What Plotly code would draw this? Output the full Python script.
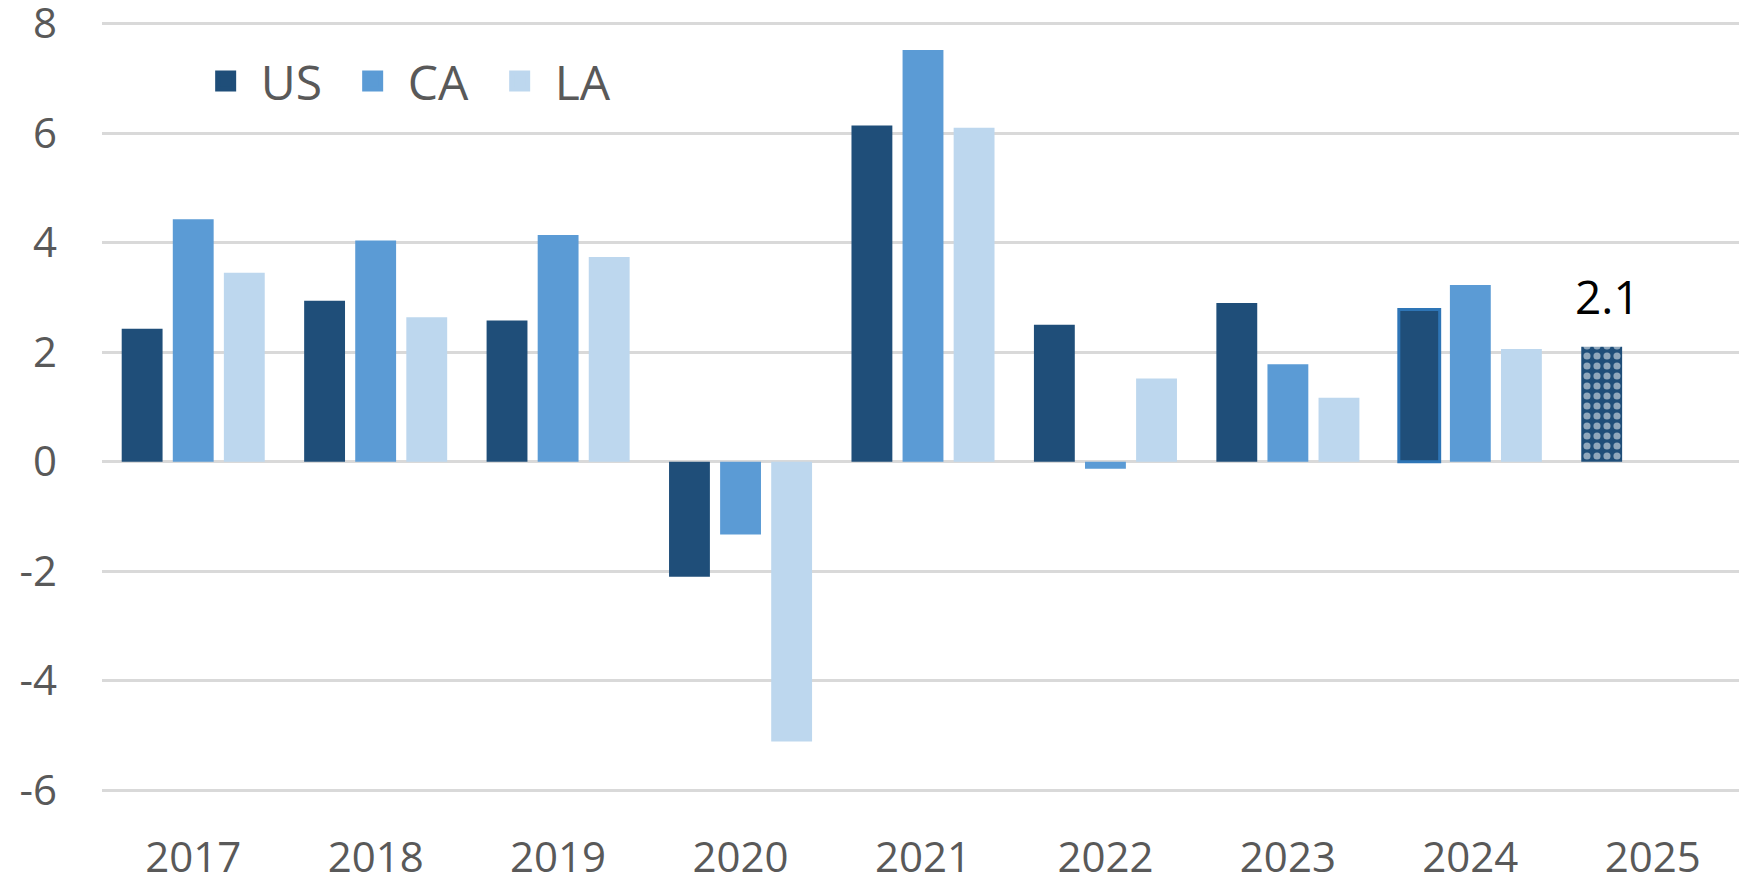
import plotly.graph_objects as go

years = ["2017", "2018", "2019", "2020", "2021", "2022", "2023", "2024", "2025"]
us = [2.43, 2.94, 2.58, -2.1, 6.14, 2.5, 2.9, 2.78, None]
ca = [4.43, 4.04, 4.14, -1.33, 7.52, -0.13, 1.78, 3.23, None]
la = [3.45, 2.64, 3.74, -5.11, 6.1, 1.52, 1.17, 2.06, None]
us_forecast = [None, None, None, None, None, None, None, None, 2.1]
forecast_year = "2025"
forecast_value = 2.1
forecast_label = "2.1"
y_ticks = [-6, -4, -2, 0, 2, 4, 6, 8]
y_ticktext = ["-6", "-4", "-2", "0", "2", "4", "6", "8"]

C_US = "#1f4e79"
C_CA = "#5b9bd5"
C_LA = "#bdd7ee"
FONT = "Open Sans"

fig = go.Figure()

us_line_colors = ["rgba(0,0,0,0)"] * 7 + ["#2e75b6", "rgba(0,0,0,0)"]
us_line_widths = [0] * 7 + [3, 0]

fig.add_trace(go.Bar(x=years, y=us, name="US", marker=dict(color=C_US,
                     line=dict(color=us_line_colors, width=us_line_widths)),
                     showlegend=False, offsetgroup="us"))
fig.add_trace(go.Bar(x=years, y=ca, name="CA", marker=dict(color=C_CA, line=dict(width=0)),
                     showlegend=False, offsetgroup="ca"))
fig.add_trace(go.Bar(x=years, y=la, name="LA", marker=dict(color=C_LA, line=dict(width=0)),
                     showlegend=False, offsetgroup="la"))
fig.add_trace(go.Bar(x=years, y=us_forecast, name="US forecast", offsetgroup="us",
                     marker=dict(color=C_US, line=dict(width=0),
                                 pattern=dict(shape=".", fgcolor="white", bgcolor=C_US,
                                              size=10, solidity=0.4)),
                     showlegend=False))

fig.add_annotation(x=years.index(forecast_year), y=forecast_value, text=forecast_label,
                   showarrow=False, xref="x", yref="y", yanchor="bottom",
                   xshift=-45, yshift=18,
                   font=dict(family=FONT, size=46, color="black"))

# legend proxies
for name, col in [("US", C_US), ("CA", C_CA), ("LA", C_LA)]:
    fig.add_trace(go.Scatter(x=[None], y=[None], mode="markers", name=name,
                             marker=dict(symbol="square", size=30, color=col,
                                         line=dict(color=col, width=6))))

fig.update_layout(
    width=1747, height=876,
    margin=dict(l=94, r=11, t=13, b=91, autoexpand=False),
    paper_bgcolor="white", plot_bgcolor="white",
    barmode="group", bargap=0.16, bargroupgap=0.2,
    font=dict(family=FONT, color="#595959", size=42),
    legend=dict(orientation="h", x=0.054, y=0.922, xanchor="left", yanchor="middle",
                font=dict(family=FONT, size=48, color="#595959"),
                itemsizing="trace", itemwidth=60, entrywidth=72,
                bgcolor="rgba(0,0,0,0)"),
    xaxis=dict(type="category", categoryorder="array", categoryarray=years,
               range=[-0.5, len(years) - 0.5],
               showgrid=False, showline=False, ticks="", ticklabelstandoff=36,
               automargin=False,
               tickfont=dict(family=FONT, size=42, color="#595959")),
    yaxis=dict(range=[-6.05, 8.05], tickvals=y_ticks, ticktext=y_ticktext,
               showgrid=True, gridcolor="#d9d9d9", gridwidth=3,
               zeroline=True, zerolinecolor="#d9d9d9", zerolinewidth=3,
               showline=False, ticks="", ticklabelstandoff=44, automargin=False,
               ticklabeloverflow="allow",
               tickfont=dict(family=FONT, size=42, color="#595959")),
)

fig.write_html("out.html")
